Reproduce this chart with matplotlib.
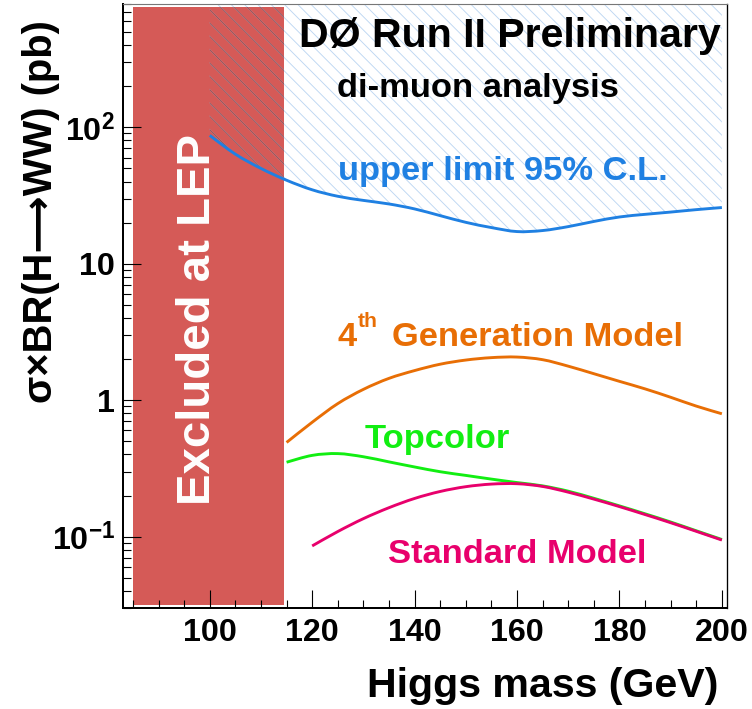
import matplotlib
matplotlib.use("Agg")
import matplotlib.pyplot as plt
from matplotlib.patches import Rectangle, PathPatch
from matplotlib.path import Path
from matplotlib.ticker import LogLocator, NullFormatter, FixedLocator, MultipleLocator
import numpy as np

plt.rcParams['font.family'] = ['Liberation Sans', 'DejaVu Sans']
plt.rcParams['font.weight'] = 'bold'
plt.rcParams['mathtext.fontset'] = 'custom'
plt.rcParams['mathtext.rm'] = 'Liberation Sans:bold'
plt.rcParams['mathtext.bf'] = 'Liberation Sans:bold'
plt.rcParams['mathtext.it'] = 'Liberation Sans:bold'
plt.rcParams['hatch.linewidth'] = 0.8

# ---- data (Higgs mass in GeV, sigma x BR in pb) ----
mass_limit = [100, 105, 110, 115, 120, 125, 130, 135, 140, 145, 150,
              155, 160, 165, 170, 175, 180, 185, 190, 195, 200]
upper_limit = [87.1, 63.5, 49.9, 40.9, 34.8, 31.2, 29.1, 27.4, 25.2, 22.5,
               20.1, 18.4, 17.2, 17.5, 18.7, 20.4, 22.0, 23.0, 23.9, 24.9,
               25.8]

mass_4gen = [115, 120, 125, 130, 135, 140, 145, 150, 155, 160,
             165, 170, 175, 180, 185, 190, 195, 200]
xsec_4gen = [0.49, 0.689, 0.944, 1.20, 1.445, 1.648, 1.835, 1.968, 2.05,
             2.07, 1.98, 1.775, 1.563, 1.374, 1.21, 1.05, 0.905, 0.795]

mass_topcolor = [115, 120, 125, 130, 135, 140, 145, 150, 155, 160,
                 165, 170, 175, 180, 185, 190, 195, 200]
xsec_topcolor = [0.351, 0.394, 0.406, 0.385, 0.353, 0.324, 0.299, 0.281,
                 0.264, 0.249, 0.2355, 0.2153, 0.191, 0.168, 0.147, 0.128,
                 0.1104, 0.0953]

mass_sm = [120, 125, 130, 135, 140, 145, 150, 155, 160,
           165, 170, 175, 180, 185, 190, 195, 200]
xsec_sm = [0.0855, 0.109, 0.1355, 0.163, 0.1905, 0.2143, 0.2323, 0.2427,
           0.2443, 0.2333, 0.2118, 0.1884, 0.166, 0.1452, 0.1265, 0.1094,
           0.0944]

lep_limit = 114.4
x_ticks = [100, 120, 140, 160, 180, 200]
x_ticklabels = ['100', '120', '140', '160', '180', '200']
y_ticks = [0.1, 1, 10, 100]
y_ticklabels = [r'$\mathbf{10^{-1}}$', '1', '10', r'$\mathbf{10^{2}}$']

# ---- figure ----
W, H, DPI = 752, 709, 80
fig = plt.figure(figsize=(W / DPI, H / DPI), dpi=DPI)


def fx(px):
    return px / W


def fy(py):
    return 1 - py / H


def smooth_curve(x, y):
    """Smooth curve through the points (Catmull-Rom as cubic Beziers,
    built in log-y space, like a graph drawn with the 'C' option)."""
    px = np.asarray(x, float)
    py = np.log10(np.asarray(y, float))
    P = np.column_stack([px, py])
    Pe = np.vstack([P[0], P, P[-1]])
    verts = [P[0]]
    codes = [Path.MOVETO]
    for i in range(len(P) - 1):
        p0, p1, p2, p3 = Pe[i], Pe[i + 1], Pe[i + 2], Pe[i + 3]
        c1 = p1 + (p2 - p0) / 6.0
        c2 = p2 - (p3 - p1) / 6.0
        verts += [c1, c2, p2]
        codes += [Path.CURVE4] * 3
    verts = np.array(verts)
    verts[:, 1] = 10 ** verts[:, 1]
    return Path(verts, codes)


ax = fig.add_axes([fx(122.7), fy(608), fx(727) - fx(122.7), fy(4) - fy(608)])
ax.set_yscale('log')
ax.set_xlim(83, 201)
ax.set_ylim(0.03, 800)

c_red = '#d55a57'
c_blue = '#1f80e2'
c_orange = '#e86e05'
c_green = '#12ee12'
c_magenta = '#e8006c'
c_hatch = '#bcd6f2'

# LEP exclusion band
lep_box = Rectangle((85, 0.0316), lep_limit - 85, 760 - 0.0316,
                    facecolor=c_red, edgecolor='none', zorder=1)
ax.add_patch(lep_box)

# excluded region above the observed limit
ax.fill_between(mass_limit, upper_limit, 800, facecolor='none',
                edgecolor=c_hatch, linewidth=0, hatch='\\\\', zorder=1.5)
dark = ax.fill_between(mass_limit, upper_limit, 800, facecolor='none',
                       edgecolor='#94484c', linewidth=0, hatch='\\\\',
                       zorder=1.6)
dark.set_clip_path(lep_box)

lw = 2.6
curves = [
    (mass_limit, upper_limit, c_blue, 3.0),
    (mass_4gen, xsec_4gen, c_orange, 3.0),
    (mass_topcolor, xsec_topcolor, c_green, 3.0),
    (mass_sm, xsec_sm, c_magenta, 3.1),
]
for xs, ys, col, z in curves:
    ax.add_patch(PathPatch(smooth_curve(xs, ys), facecolor='none',
                           edgecolor=col, lw=lw, capstyle='butt',
                           joinstyle='round', zorder=z))

# axes styling
ax.xaxis.set_major_locator(FixedLocator(x_ticks))
ax.set_xticklabels(x_ticklabels)
ax.xaxis.set_minor_locator(MultipleLocator(5))
ax.yaxis.set_major_locator(FixedLocator(y_ticks))
ax.set_yticklabels(y_ticklabels)
ax.yaxis.set_minor_locator(LogLocator(base=10, subs=np.arange(2, 10)))
ax.yaxis.set_minor_formatter(NullFormatter())

ax.tick_params(axis='both', which='both', direction='in', top=False,
               right=False, width=1.0, colors='black')
ax.tick_params(axis='both', which='major', length=16.2, labelsize=29)
ax.tick_params(axis='both', which='minor', length=7.6)
ax.tick_params(axis='x', which='major', pad=9)
ax.tick_params(axis='y', which='major', pad=7)

ax.spines['left'].set_linewidth(1.8)
ax.spines['bottom'].set_linewidth(1.8)
ax.spines['right'].set_linewidth(1.2)
ax.spines['top'].set_linewidth(1.0)
ax.spines['top'].set_color('#777777')

# annotations
fig.text(fx(299), fy(46.7), 'DØ Run II Preliminary', fontsize=37,
         ha='left', va='baseline', color='black')
fig.text(fx(337), fy(96.7), 'di-muon analysis', fontsize=31,
         ha='left', va='baseline', color='black')
fig.text(fx(338), fy(180), 'upper limit 95% C.L.', fontsize=31,
         ha='left', va='baseline', color=c_blue)
fig.text(fx(337), fy(346), '4', fontsize=31, ha='left', va='baseline',
         color=c_orange)
fig.text(fx(358), fy(327), 'th', fontsize=19, ha='left', va='baseline',
         color=c_orange)
fig.text(fx(392), fy(346), 'Generation Model', fontsize=31, ha='left',
         va='baseline', color=c_orange)
fig.text(fx(365), fy(448), 'Topcolor', fontsize=31, ha='left',
         va='baseline', color=c_green)
fig.text(fx(388), fy(562.7), 'Standard Model', fontsize=31, ha='left',
         va='baseline', color=c_magenta)
fig.text(fx(210), fy(505), 'Excluded at LEP', fontsize=42.7, rotation=90,
         rotation_mode='anchor', ha='left', va='baseline', color='white')

fig.text(fx(718), fy(697), 'Higgs mass (GeV)', fontsize=37, ha='right',
         va='baseline', color='black')
fig.text(fx(52), fy(20), 'σ×BR(H⟶WW) (pb)', fontsize=36, rotation=90,
         rotation_mode='anchor', ha='right', va='baseline', color='black')

fig.savefig('out.png', dpi=DPI)
